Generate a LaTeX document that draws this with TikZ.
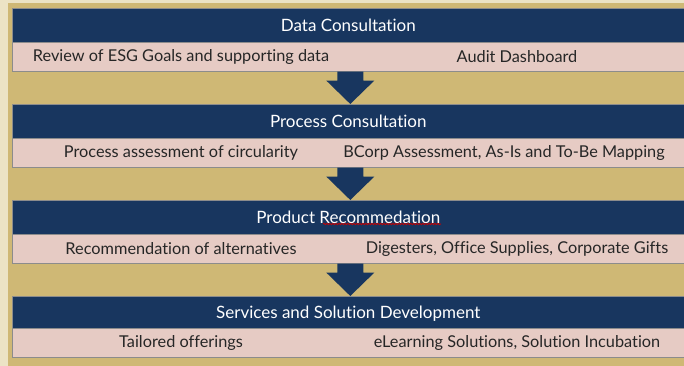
\documentclass[tikz,border=0pt]{standalone}
\usepackage{fontspec}
\setmainfont{Lato}[Ligatures={NoCommon}]
\usetikzlibrary{calc,decorations.pathmorphing}
\definecolor{frame}{HTML}{ECE3C5}
\definecolor{sand}{HTML}{CFB875}
\definecolor{navy}{HTML}{18365F}
\definecolor{rose}{HTML}{E6CBC4}
\definecolor{shade}{HTML}{8C8C8C}

\begin{document}
\begin{tikzpicture}[x=1pt,y=-1pt,
  stage/.style={fill=navy,draw=shade,line width=0.6pt,text=white,anchor=north west,
    minimum width=672pt,minimum height=34pt,inner sep=0pt,font=\fontsize{17}{20}\selectfont},
  detail/.style={fill=rose,draw=shade,line width=0.6pt,anchor=north west,
    minimum width=672pt,minimum height=29pt,inner sep=0pt},
  item/.style={text=black!85,inner sep=0pt,font=\fontsize{16.3}{19}\selectfont}]
  \useasboundingbox (0,0) rectangle (684,366);
  \fill[frame] (0,0) rectangle (684,366);
  \fill[sand] (8,3) rectangle (684,366);

  \node[stage] (h1) at (12,8) {Data Consultation};
  \node[detail] (r1) at (12,42) {};
  \node[item] (r1a) at (181,56.5) {Review of ESG Goals and supporting data};
  \node[item] (r1b) at (517,56.5) {Audit Dashboard};

  \node[stage] (h2) at (12,104) {Process Consultation};
  \node[detail] (r2) at (12,138) {};
  \node[item] (r2a) at (181,152.5) {Process assessment of circularity};
  \node[item] (r2b) at (504,152.5) {BCorp Assessment, As-Is and To-Be Mapping};

  \node[stage] (h3) at (12,200) {Product Recommedation};
  \node[detail] (r3) at (12,234) {};
  \node[item] (r3a) at (181,248.5) {Recommendation of alternatives};
  \node[item] (r3b) at (517,248.5) {Digesters, Office Supplies, Corporate Gifts};

  \node[stage] (h4) at (12,296) {Services and Solution Development};
  \node[detail] (r4) at (12,328) {};
  \node[item] (r4a) at (181,342.5) {Tailored offerings};
  \node[item] (r4b) at (517,342.5) {eLearning Solutions, Solution Incubation};

  % block arrows between the stages
  \fill[navy] ($(r1.south)+(-11,0)$) -- ($(r1.south)+(15,0)$) -- ($(r1.south)+(15,9)$) -- ($(r1.south)+(26,9)$)
    -- ($(h2.north)+(2,0)$) -- ($(r1.south)+(-22,9)$) -- ($(r1.south)+(-11,9)$) -- cycle;
  \fill[navy] ($(r2.south)+(-11,0)$) -- ($(r2.south)+(15,0)$) -- ($(r2.south)+(15,9)$) -- ($(r2.south)+(26,9)$)
    -- ($(h3.north)+(2,0)$) -- ($(r2.south)+(-22,9)$) -- ($(r2.south)+(-11,9)$) -- cycle;
  \fill[navy] ($(r3.south)+(-11,0)$) -- ($(r3.south)+(15,0)$) -- ($(r3.south)+(15,9)$) -- ($(r3.south)+(26,9)$)
    -- ($(h4.north)+(2,0)$) -- ($(r3.south)+(-22,9)$) -- ($(r3.south)+(-11,9)$) -- cycle;

  % spelling mark
  \draw[red!80!black,line width=0.8pt,decorate,decoration={snake,amplitude=0.7pt,segment length=3pt}]
    (323,224) -- (441,224);
\end{tikzpicture}
\end{document}
